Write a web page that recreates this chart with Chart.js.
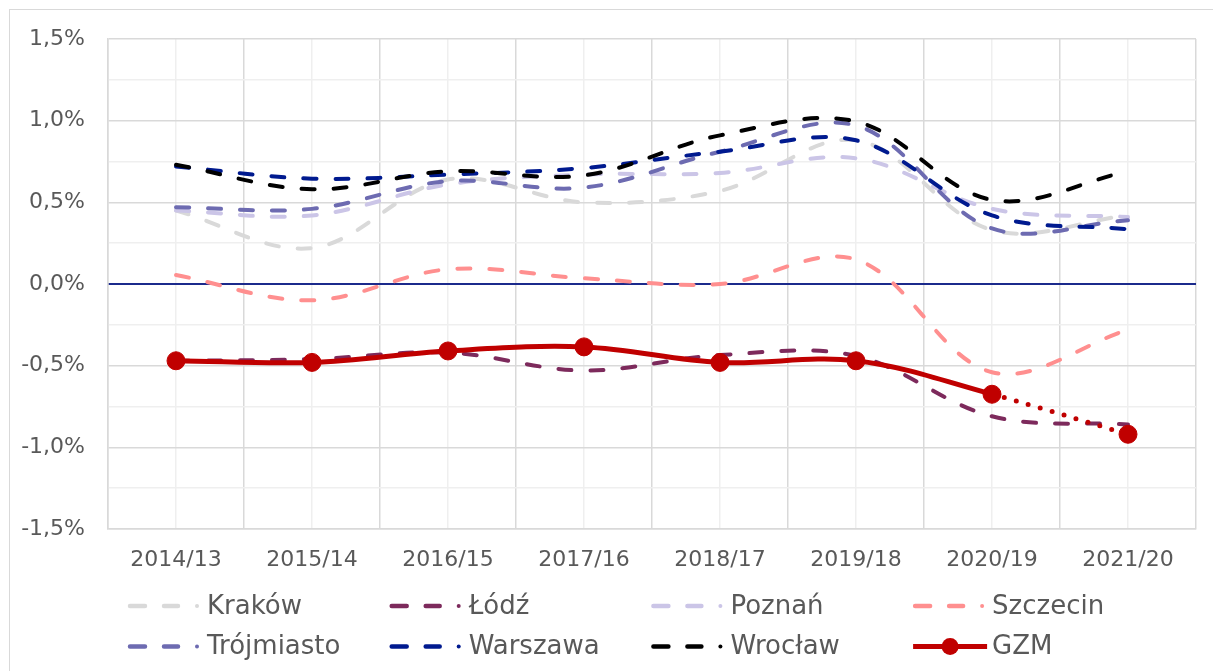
<!DOCTYPE html>
<html>
<head>
<meta charset="utf-8">
<script src="https://cdn.jsdelivr.net/npm/chart.js@4/dist/chart.umd.min.js"></script>
<style>
  body { margin: 0; background: #fff; overflow: hidden; }
  #frame { position: absolute; left: 9px; top: 9px; width: 1220px; height: 700px; border: 1.5px solid #d9d9d9; }
  #wrap { position: absolute; left: 0; top: 0; width: 1213px; height: 671px; }
</style>
</head>
<body>
<div id="frame"></div>
<div id="wrap"><canvas id="chart" width="1213" height="671"></canvas></div>
<script>
// data (percent)
const labels = ['2014/13', '2015/14', '2016/15', '2017/16', '2018/17', '2019/18', '2020/19', '2021/20'];
const krakow     = [0.45, 0.22, 0.64, 0.50, 0.57, 0.88, 0.33, 0.42];
const lodz       = [-0.47, -0.46, -0.42, -0.53, -0.435, -0.44, -0.81, -0.86];
const poznan     = [0.45, 0.42, 0.61, 0.67, 0.68, 0.77, 0.46, 0.41];
const szczecin   = [0.055, -0.10, 0.09, 0.035, 0.0, 0.15, -0.54, -0.28];
const trojmiasto = [0.47, 0.46, 0.63, 0.59, 0.81, 0.97, 0.34, 0.39];
const warszawa   = [0.72, 0.645, 0.67, 0.71, 0.81, 0.88, 0.42, 0.335];
const wroclaw    = [0.73, 0.58, 0.69, 0.665, 0.91, 0.995, 0.515, 0.69];
const gzm        = [-0.47, -0.48, -0.41, -0.385, -0.48, -0.47, -0.675, -0.92];

const names  = ['Kraków', 'Łódź', 'Poznań', 'Szczecin', 'Trójmiasto', 'Warszawa', 'Wrocław', 'GZM'];
const series = [krakow, lodz, poznan, szczecin, trojmiasto, warszawa, wroclaw, gzm];
const colors = ['#d9d9d9', '#7d2a5c', '#cbc5e7', '#ff8f8f', '#6d6bb1', '#001a8f', '#000000', '#c00000'];

const textColor = '#595959';
const fontFamily = '"DejaVu Sans", sans-serif';

function dashedSet(i) {
    return {
        label: names[i],
        data: series[i],
        borderColor: colors[i],
        backgroundColor: colors[i],
        borderWidth: 4,
        borderDash: [13, 19],
        borderCapStyle: 'round',
        pointRadius: 0,
        tension: 0.35,
        fill: false,
        order: -i
    };
}

const datasets = [];
for (let i = 0; i < 7; i++) datasets.push(dashedSet(i));
datasets.push({
    label: names[7],
    data: gzm,
    borderColor: colors[7],
    backgroundColor: colors[7],
    borderWidth: 5,
    pointRadius: 9,
    pointBorderWidth: 1,
    pointBackgroundColor: colors[7],
    pointBorderColor: colors[7],
    tension: 0.35,
    fill: false,
    order: -7,
    segment: {
        // last step is dotted
        borderDash: ctx => ctx.p0DataIndex === 6 ? [0, 12.5] : undefined,
        borderCapStyle: ctx => ctx.p0DataIndex === 6 ? 'round' : undefined
    }
});

// legend laid out as a 4 x 2 grid like the original
const gridLegend = {
    id: 'gridLegend',
    afterDraw(chart) {
        const ctx = chart.ctx;
        ctx.save();
        chart.data.datasets.forEach((ds, i) => {
            const col = i % 4, row = Math.floor(i / 4);
            const tx = 207 + col * 261.7;
            const y = 606 + row * 40.5;
            ctx.strokeStyle = ds.borderColor;
            ctx.fillStyle = ds.borderColor;
            if (i === 7) {
                ctx.lineWidth = 5;
                ctx.lineCap = 'butt';
                ctx.beginPath();
                ctx.moveTo(tx - 79, y);
                ctx.lineTo(tx - 5, y);
                ctx.stroke();
                ctx.beginPath();
                ctx.arc(tx - 42, y, 8.5, 0, Math.PI * 2);
                ctx.fill();
            } else {
                ctx.lineWidth = 4.5;
                ctx.lineCap = 'round';
                ctx.beginPath();
                ctx.moveTo(tx - 77, y); ctx.lineTo(tx - 62, y);
                ctx.moveTo(tx - 43, y); ctx.lineTo(tx - 29, y);
                ctx.stroke();
                ctx.beginPath();
                ctx.arc(tx - 10, y, 2, 0, Math.PI * 2);
                ctx.fill();
            }
            ctx.fillStyle = textColor;
            ctx.font = '26px ' + fontFamily;
            ctx.textBaseline = 'middle';
            ctx.textAlign = 'left';
            ctx.fillText(ds.label, tx, y + 1);
        });
        ctx.restore();
    }
};

function yGridColor(c) {
    const v = Math.round(c.tick.value * 100);
    if (v === 0) return '#1b2a8c';
    return v % 50 === 0 ? '#d9d9d9' : '#efefef';
}

new Chart(document.getElementById('chart'), {
    type: 'line',
    data: { labels: labels, datasets: datasets },
    plugins: [gridLegend],
    options: {
        responsive: false,
        animation: false,
        layout: { padding: { left: 0, top: 39, right: 17, bottom: 0 } },
        plugins: {
            legend: { display: false },
            tooltip: { enabled: false }
        },
        scales: {
            x: {
                offset: true,
                grid: { offset: true, color: '#d9d9d9', lineWidth: 1.5, drawTicks: false },
                border: { color: '#d9d9d9', width: 1.5 },
                ticks: {
                    color: textColor,
                    font: { family: fontFamily, size: 22 },
                    padding: 18,
                    maxRotation: 0,
                    autoSkip: false
                },
                afterFit: axis => { axis.height = 142; }
            },
            x2: {
                position: 'bottom',
                offset: true,
                grid: { offset: false, color: '#efefef', lineWidth: 1.5, drawTicks: false },
                border: { display: false },
                ticks: { display: false },
                afterFit: axis => { axis.height = 0; }
            },
            y: {
                min: -1.5,
                max: 1.5,
                grid: {
                    color: yGridColor,
                    lineWidth: c => Math.round(c.tick.value * 100) === 0 ? 2 : 1.5,
                    drawTicks: false
                },
                border: { color: '#d9d9d9', width: 1.5 },
                ticks: {
                    stepSize: 0.25,
                    autoSkip: false,
                    color: textColor,
                    font: { family: fontFamily, size: 22 },
                    padding: 23,
                    callback: value => {
                        const v = Math.round(value * 100);
                        if (v % 50 !== 0) return '';
                        return (v / 100).toFixed(1).replace('.', ',') + '%';
                    }
                },
                afterFit: axis => { axis.width = 108; }
            }
        }
    }
});
</script>
</body>
</html>
